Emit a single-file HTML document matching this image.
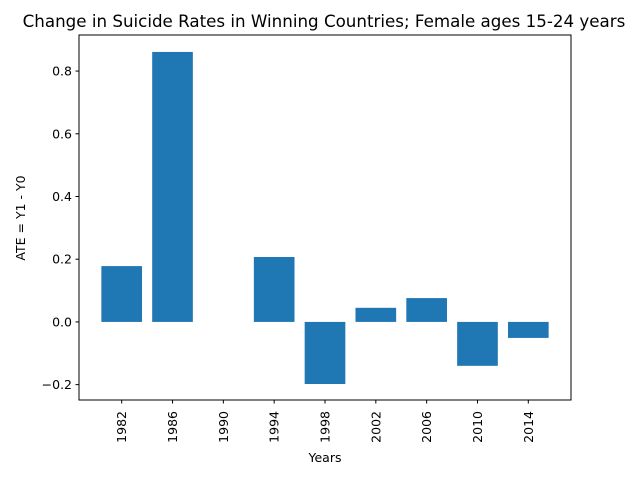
<!DOCTYPE html>
<html><head><meta charset="utf-8"><style>
html,body{margin:0;padding:0;background:#fff;}
svg text{font-family:"DejaVu Sans","Liberation Sans",sans-serif;fill:#000;}
</style></head><body>
<svg id="chart" width="640" height="480" xmlns="http://www.w3.org/2000/svg">
<rect width="640" height="480" fill="#fff"/>
<text x="324" y="27" font-size="16.7" text-anchor="middle">Change in Suicide Rates in Winning Countries; Female ages 15-24 years</text>
<g id="bars"></g>
<g id="axes"></g>
<text x="325" y="462" font-size="12.5" text-anchor="middle">Years</text>
<text transform="translate(25,218) rotate(-90)" font-size="12.5" text-anchor="middle">ATE = Y1 - Y0</text>
</svg>
<script>
const categories = ["1982","1986","1990","1994","1998","2002","2006","2010","2014"];
const values = [0.178, 0.861, 0.0, 0.207, -0.198, 0.045, 0.076, -0.14, -0.051];
const yTicks = [-0.2, 0.0, 0.2, 0.4, 0.6, 0.8];
const yTickLabels = ["\u22120.2","0.0","0.2","0.4","0.6","0.8"];

const L=79,R=571,T=35,B=400;
const xMin=-0.84,xMax=categories.length-1+0.84;
const yMin=-0.249,yMax=0.915;
const xs=i=>L+(i-xMin)/(xMax-xMin)*(R-L);
const ys=v=>B-(v-yMin)/(yMax-yMin)*(B-T);
const NS="http://www.w3.org/2000/svg";
const bars=document.getElementById('bars');
const axes=document.getElementById('axes');
const bw=(xs(0.8)-xs(0));
values.forEach((v,i)=>{
  const r=document.createElementNS(NS,'rect');
  r.setAttribute('x',xs(i)-bw/2);
  r.setAttribute('y',Math.min(ys(v),ys(0)));
  r.setAttribute('width',bw);
  r.setAttribute('height',Math.abs(ys(v)-ys(0)));
  r.setAttribute('fill','#1f77b4');
  
  
  bars.appendChild(r);
});
const frame=document.createElementNS(NS,'rect');
frame.setAttribute('x',L);frame.setAttribute('y',T);
frame.setAttribute('width',R-L);frame.setAttribute('height',B-T);
frame.setAttribute('fill','none');frame.setAttribute('stroke','#000');frame.setAttribute('stroke-width','1');


axes.appendChild(frame);
yTicks.forEach((t,i)=>{
  const y=ys(t);
  const l=document.createElementNS(NS,'line');
  l.setAttribute('x1',L-3.5);l.setAttribute('x2',L);l.setAttribute('y1',y);l.setAttribute('y2',y);
  l.setAttribute('stroke','#000');
  
  
  axes.appendChild(l);
  const tx=document.createElementNS(NS,'text');
  tx.setAttribute('x',L-7);tx.setAttribute('y',y+4.5);tx.setAttribute('font-size','12.5');tx.setAttribute('text-anchor','end');
  tx.textContent=yTickLabels[i];
  
  
  axes.appendChild(tx);
});
categories.forEach((c,i)=>{
  const x=xs(i);
  const l=document.createElementNS(NS,'line');
  l.setAttribute('x1',x);l.setAttribute('x2',x);l.setAttribute('y1',B);l.setAttribute('y2',B+3.5);
  l.setAttribute('stroke','#000');
  
  
  axes.appendChild(l);
  const tx=document.createElementNS(NS,'text');
  tx.setAttribute('transform','translate('+(x+4.5)+','+(B+11)+') rotate(-90)');
  tx.setAttribute('font-size','12.5');tx.setAttribute('text-anchor','end');
  tx.textContent=c;
  
  
  axes.appendChild(tx);
});
</script>
</body></html>
